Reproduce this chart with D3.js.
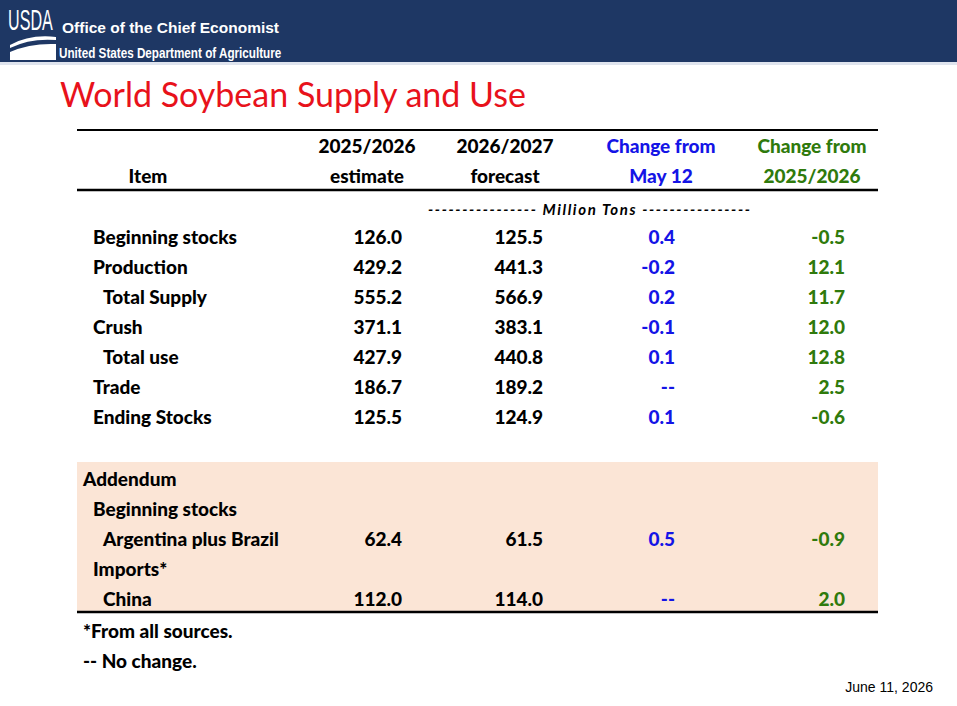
<!DOCTYPE html>
<html><head><meta charset="utf-8">
<script src="https://cdn.jsdelivr.net/npm/d3@7"></script>
<style>body{margin:0;background:#fff}</style>
</head><body>
<script>
// table data
var items = ["Beginning stocks","Production","Total Supply","Crush","Total use","Trade","Ending Stocks"];
var indent = [0,0,1,0,1,0,0];
var est = ["126.0","429.2","555.2","371.1","427.9","186.7","125.5"];
var fcst = ["125.5","441.3","566.9","383.1","440.8","189.2","124.9"];
var chgMay = ["0.4","-0.2","0.2","-0.1","0.1","--","0.1"];
var chgYear = ["-0.5","12.1","11.7","12.0","12.8","2.5","-0.6"];

var addItems = ["Addendum","Beginning stocks","Argentina plus Brazil","Imports*","China"];
var addIndent = [-1,0,1,0,1];
var addEst = ["","","62.4","","112.0"];
var addFcst = ["","","61.5","","114.0"];
var addMay = ["","","0.5","","--"];
var addYear = ["","","-0.9","","2.0"];

var W = 957, H = 706;
var svg = d3.select("body").append("svg").attr("width", W).attr("height", H)
  .style("font-family", "Lato, 'Open Sans', sans-serif");

// banner
svg.append("rect").attr("width", W).attr("height", 62).attr("fill", "#1e3764");
svg.append("rect").attr("y", 62).attr("width", W).attr("height", 3).attr("fill", "#dfe4ee");
svg.append("text").attr("transform", "translate(8,30) scale(0.62,1.1)").attr("fill", "#fff")
  .attr("font-family", "'Liberation Sans', Arial, sans-serif").attr("font-size", 26).text("USDA");
var sw = svg.append("g").attr("fill", "#fff");
sw.append("path").attr("d", "M10,45 Q30,34 56,37 L56,40 Q30,38 10,48 Z");
sw.append("path").attr("d", "M10,52 Q30,43 56,44 L56,60 L10,60 Z");
svg.append("text").attr("x", 62).attr("y", 33).attr("fill", "#fff").attr("font-family", "'Liberation Sans', Arial, sans-serif")
  .attr("font-weight", "bold").attr("font-size", 15.5).text("Office of the Chief Economist");
svg.append("text").attr("transform", "translate(59,58) scale(0.78,1)").attr("fill", "#fff").attr("font-family", "'Liberation Sans', Arial, sans-serif")
  .attr("font-weight", "bold").attr("font-size", 15).text("United States Department of Agriculture");

svg.append("text").attr("x", 60).attr("y", 107).attr("fill", "#e8121b").attr("font-size", 34).text("World Soybean Supply and Use");

// layout
var x0 = 77, x1 = 878;
var colRight = [402, 543, 675, 845];
var colCenter = [367, 505, 661, 812];
var colColor = ["#000", "#000", "#1414e6", "#2f7a0c"];
var yMain = d3.scaleLinear().domain([0, 6]).range([237, 417]);
var yAdd = d3.scaleLinear().domain([0, 4]).range([479, 599]);

svg.append("rect").attr("x", x0).attr("y", 462).attr("width", x1 - x0).attr("height", 150).attr("fill", "#fbe5d6");
[[130, 2], [190, 2.5], [612, 2.5]].forEach(function(l){
  svg.append("line").attr("x1", x0).attr("x2", x1).attr("y1", l[0]).attr("y2", l[0]).attr("stroke", "#000").attr("stroke-width", l[1]);
});

var hdr = [["2025/2026","estimate"],["2026/2027","forecast"],["Change from","May 12"],["Change from","2025/2026"]];
var g = svg.append("g").attr("font-weight", "900").attr("font-size", 19);
g.append("text").attr("x", 148).attr("y", 183).attr("text-anchor", "middle").text("Item");
hdr.forEach(function(h, i){
  h.forEach(function(t, j){
    g.append("text").attr("x", colCenter[i]).attr("y", 153 + j * 30).attr("text-anchor", "middle").attr("fill", colColor[i]).text(t);
  });
});
svg.append("text").attr("x", 428).attr("y", 215).attr("font-weight", "bold").attr("font-style", "italic")
  .attr("font-size", 15).attr("textLength", 322).text("---------------- Million Tons ----------------");

function drawRows(y, names, ind, cols) {
  names.forEach(function(n, i){
    g.append("text").attr("x", 93 + ind[i] * 10).attr("y", y(i) + 7).text(n);
    cols.forEach(function(c, k){
      g.append("text").attr("x", colRight[k]).attr("y", y(i) + 7).attr("text-anchor", "end").attr("fill", colColor[k]).text(c[i]);
    });
  });
}
drawRows(yMain, items, indent, [est, fcst, chgMay, chgYear]);
drawRows(yAdd, addItems, addIndent, [addEst, addFcst, addMay, addYear]);

g.append("text").attr("x", 83).attr("y", 638).text("*From all sources.");
g.append("text").attr("x", 83).attr("y", 668).text("-- No change.");
svg.append("text").attr("x", 933).attr("y", 692).attr("text-anchor", "end").attr("font-family", "'Liberation Sans', Arial, sans-serif")
  .attr("font-size", 14).text("June 11, 2026");
</script>
</body></html>
